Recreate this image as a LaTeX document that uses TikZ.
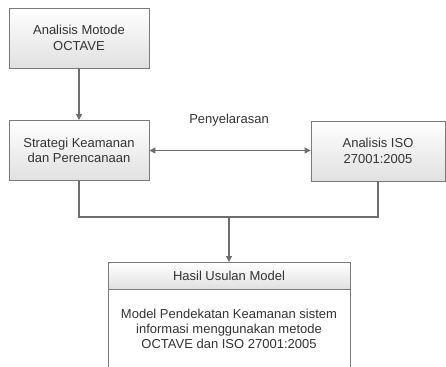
\documentclass[tikz,border=0pt]{standalone}
\usepackage{fontspec}
\setmainfont{Liberation Sans}
\usetikzlibrary{arrows.meta,calc}
\definecolor{txt}{HTML}{333333}
\definecolor{edge}{HTML}{7A7A7A}
\definecolor{lnc}{HTML}{6E6E6E}
\begin{document}
\begin{tikzpicture}[x=1bp,y=-1bp,
  boxst/.style={draw=edge,line width=0.9bp,rectangle,inner sep=0pt,
    top color=white,bottom color=black!12,shading angle=0,
    text=txt,align=center,font=\fontsize{13bp}{15.5bp}\selectfont},
  conn/.style={draw=lnc,line width=1.2bp},
  tip/.style={-{Triangle[length=6bp,width=6bp]}}
]
\useasboundingbox (0,0) rectangle (446,366);
\begin{scope}
\clip (0,0) rectangle (446,366);
\node[boxst,minimum width=140bp,minimum height=60bp] (a) at (79,38) {Analisis Motode\\OCTAVE};
\node[boxst,minimum width=140bp,minimum height=60bp] (b) at (79,150.5) {Strategi Keamanan\\dan Perencanaan};
\node[boxst,minimum width=134bp,minimum height=60bp] (c) at (378,151) {Analisis ISO\\27001:2005};
% result box
\node[draw=edge,line width=0.9bp,fill=white,minimum width=242bp,minimum height=120bp,inner sep=0pt,anchor=north] (d) at (229,262) {};
\node[boxst,minimum width=242bp,minimum height=27bp,anchor=north] (dh) at (229,262) {Hasil Usulan Model};
\node[text=txt,align=center,font=\fontsize{13bp}{15bp}\selectfont] (dt) at (229,329) {Model Pendekatan Keamanan sistem\\informasi menggunakan metode\\OCTAVE dan ISO 27001:2005};
\end{scope}
\node[text=txt,font=\fontsize{13bp}{15bp}\selectfont] (lbl) at (229,120) {Penyelarasan};
\coordinate (m) at (229,217);
\draw[conn,tip] (a.south) -- (b.north);
\draw[conn,{Triangle[length=6bp,width=6bp]}-{Triangle[length=6bp,width=6bp]}] (b.east) -- (b.east -| c.west);
\draw[conn] (b.south) |- (m) -| (c.south);
\draw[conn,tip] (m) -- (dh.north);
\end{tikzpicture}
\end{document}
